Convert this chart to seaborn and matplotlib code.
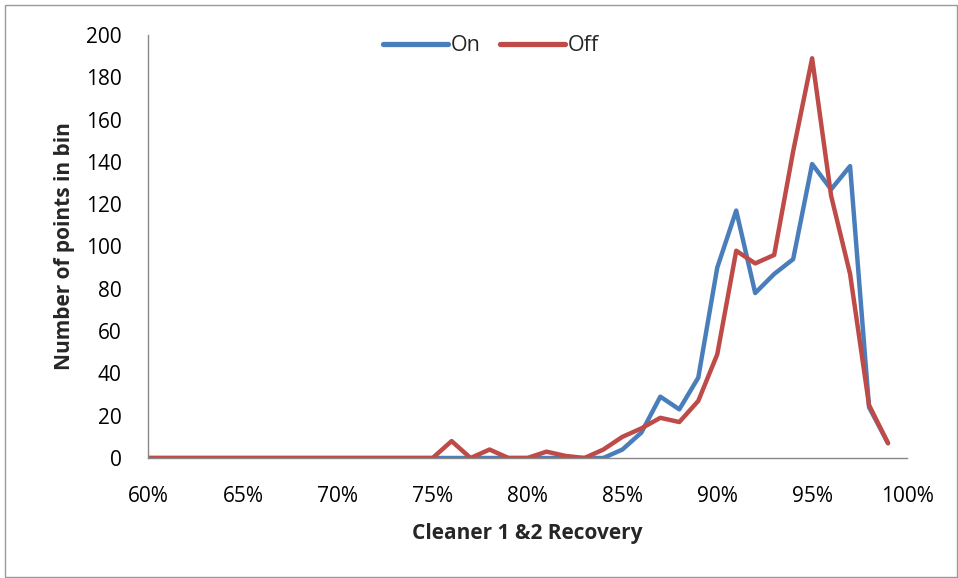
import matplotlib
matplotlib.use("Agg")
import matplotlib.pyplot as plt
import seaborn as sns
import pandas as pd
from matplotlib.ticker import FuncFormatter, MultipleLocator
from matplotlib.patches import Rectangle

recovery = list(range(60, 100))
on_counts = [0]*24 + [0, 4, 12, 29, 23, 38, 90, 117, 78, 87, 94, 139, 127, 138, 24, 7]
off_counts = [0]*16 + [8, 0, 4, 0, 0, 3, 1, 0, 4, 10, 14, 19, 17, 27, 49, 98, 92, 96, 145, 189, 124, 87, 25, 7]
series_names = ["On", "Off"]
colors = ["#4A7EBB", "#BE4B48"]

df = pd.DataFrame({
    "Recovery": recovery * 2,
    "Count": on_counts + off_counts,
    "Series": [series_names[0]] * len(recovery) + [series_names[1]] * len(recovery),
})

sns.set_style("white")
plt.rcParams["font.family"] = ["Open Sans", "DejaVu Sans"]

fig = plt.figure(figsize=(9.58, 5.78), dpi=100)
ax = fig.add_axes([148/958, 1 - 458/578, (907-148)/958, (458-35)/578])

sns.lineplot(data=df, x="Recovery", y="Count", hue="Series", palette=colors,
             linewidth=3.2, ax=ax, legend=True)

ax.set_xlim(60, 100)
ax.set_ylim(0, 200)
ax.xaxis.set_major_locator(MultipleLocator(5))
ax.yaxis.set_major_locator(MultipleLocator(20))
ax.xaxis.set_major_formatter(FuncFormatter(lambda v, p: f"{int(round(v))}%"))
ax.tick_params(axis="both", labelsize=15, length=0, colors="black")
ax.tick_params(axis="x", pad=20)
ax.tick_params(axis="y", pad=19)

for s in ["top", "right"]:
    ax.spines[s].set_visible(False)
for s in ["left", "bottom"]:
    ax.spines[s].set_color("#888888")
    ax.spines[s].set_linewidth(1)

ax.set_xlabel("Cleaner 1 &2 Recovery", fontsize=15, fontweight="bold", labelpad=12)
ax.set_ylabel("Number of points in bin", fontsize=15, fontweight="bold", labelpad=8)

leg = ax.legend(loc="upper center", bbox_to_anchor=(0.452, 1.045), ncol=2, frameon=False,
                fontsize=15.5, handlelength=3.0, columnspacing=0.9, handletextpad=0.15)
for h in leg.get_lines():
    h.set_linewidth(3.8)

fig.patches.append(Rectangle((5/958, 0.002), 1 - 6/958, 1 - 5/578 - 0.002, transform=fig.transFigure,
                             fill=False, edgecolor="#999999", linewidth=1))

fig.savefig("out.png", dpi=100)
